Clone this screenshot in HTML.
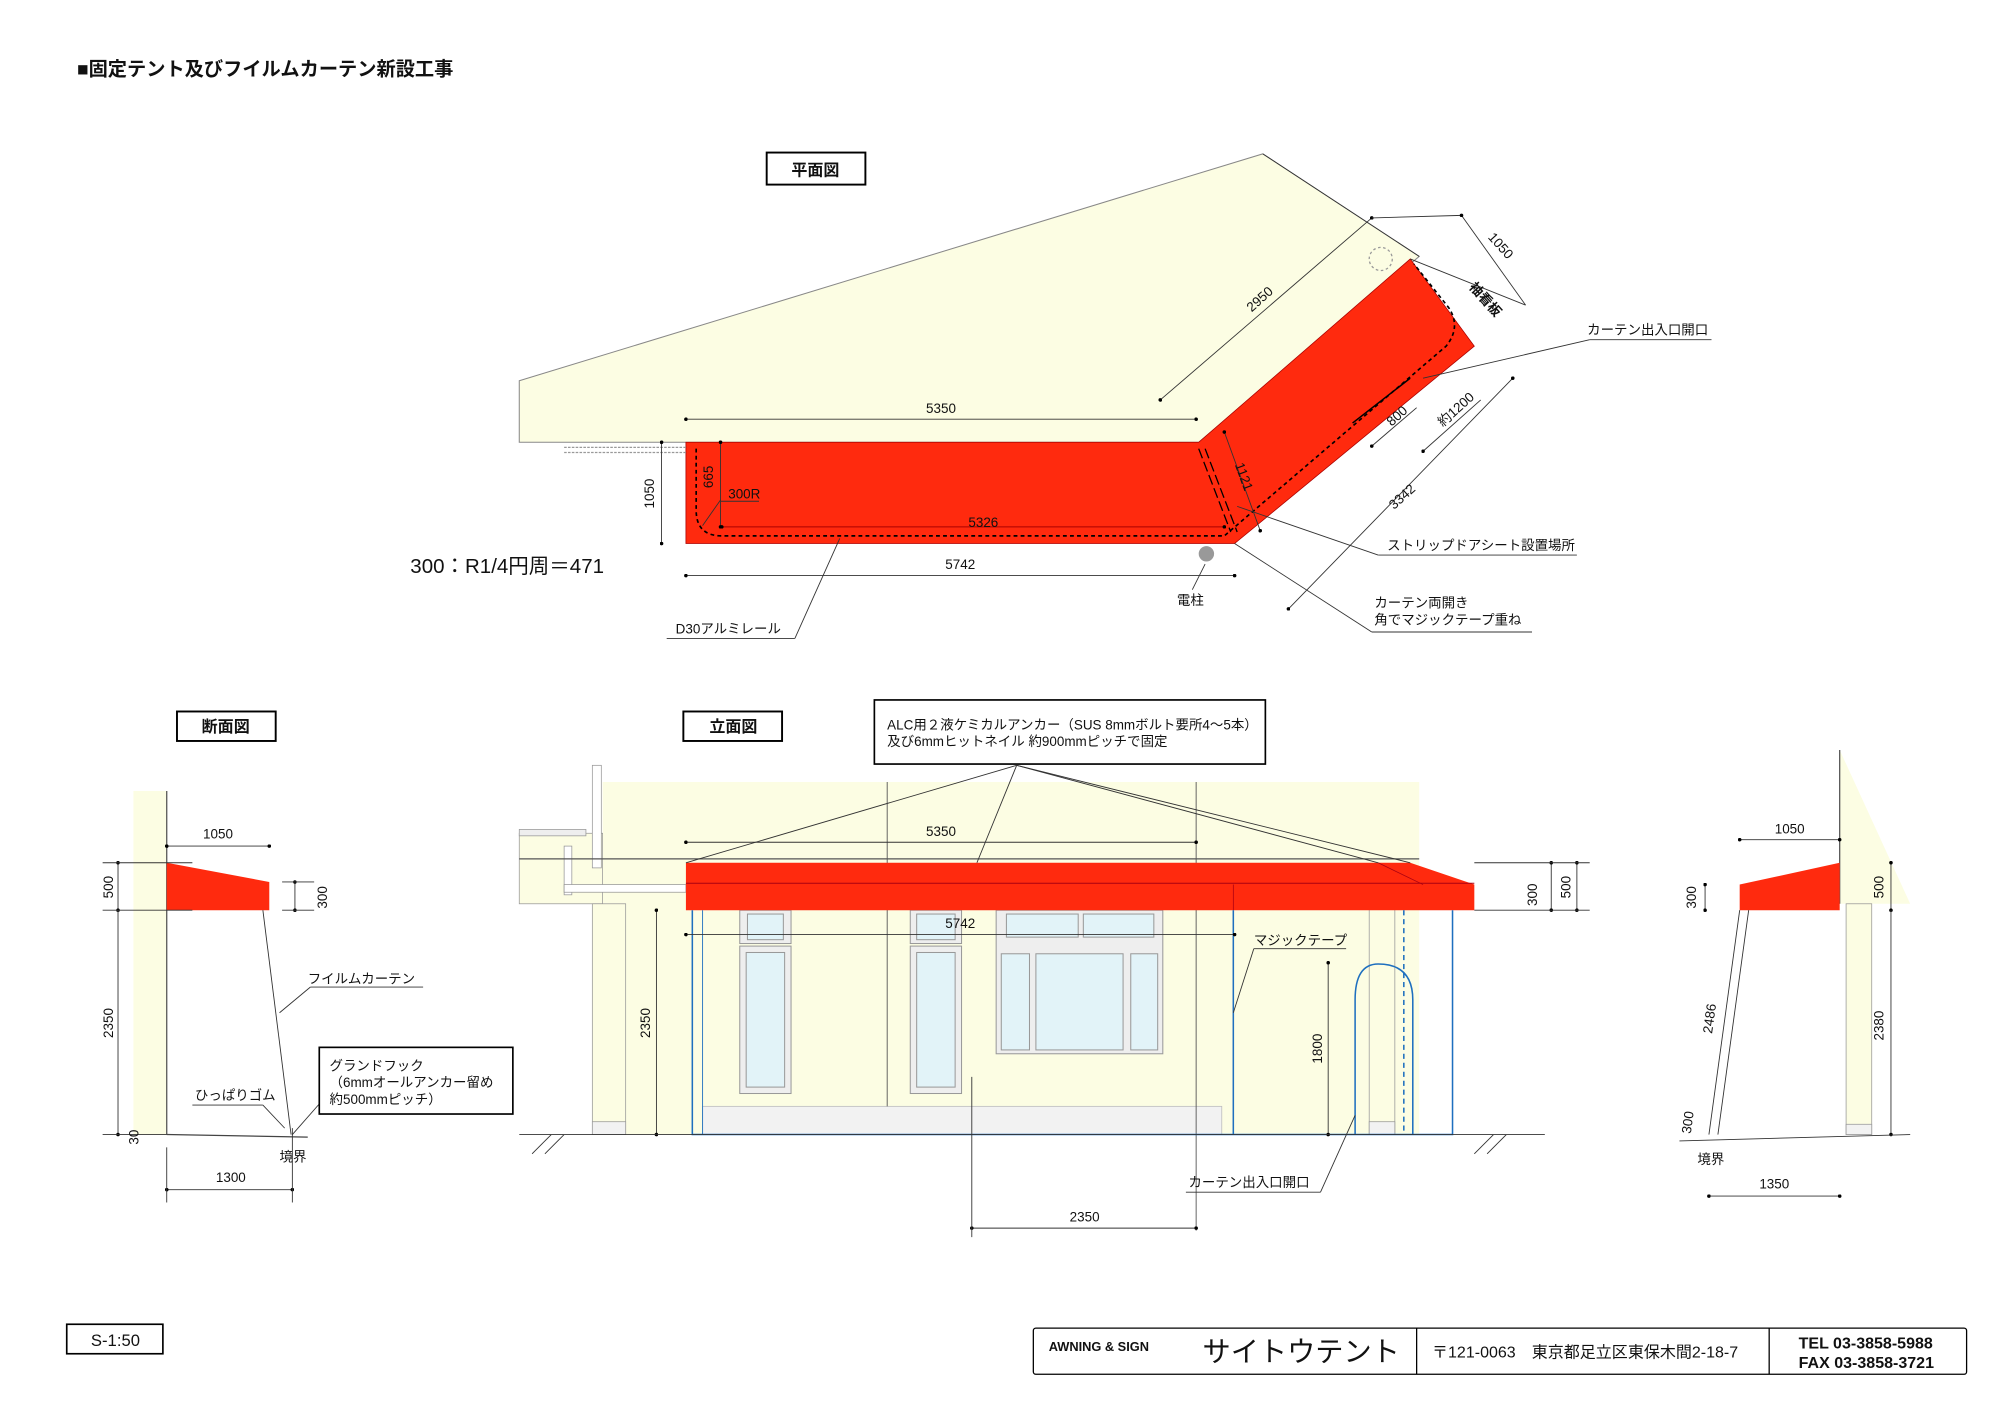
<!DOCTYPE html>
<html><head><meta charset="utf-8"><style>
html,body{margin:0;padding:0;background:#fff;}
svg{display:block;}
text{font-family:"Liberation Sans","Noto Sans CJK JP",sans-serif;fill:#111;}
</style></head><body>
<svg width="2000" height="1414" viewBox="0 0 1560 1103" xmlns="http://www.w3.org/2000/svg">
<defs>
<marker id="d" viewBox="0 0 6 6" refX="3" refY="3" markerWidth="4" markerHeight="4"><circle cx="3" cy="3" r="3" fill="#000"/></marker>
</defs>
<g font-size="10.5">
<text x="60" y="59" font-size="15" font-weight="bold">■固定テント及びフイルムカーテン新設工事</text>

<!-- PLAN -->
<rect x="598" y="119" width="77" height="25" fill="#fff" stroke="#000" stroke-width="1.5"/>
<text x="636" y="137" font-size="12.5" text-anchor="middle" font-weight="bold">平面図</text>
<polygon points="405,297 985,120 1107,200 935,345 405,345" fill="#fcfde3" stroke="#888" stroke-width="0.8"/>
<polygon points="535,345 935,345 1100,202 1150,270 963,424 535,424" fill="#ff2a0e" stroke="#a00" stroke-width="0.6"/>
<path d="M543,350 V398 Q543,418 563,418 H955 L1128,270 Q1140,255 1130,240 L1103,206" fill="none" stroke="#000" stroke-width="1.3" stroke-dasharray="3,2.5"/>
<path d="M935,350 L960,415 M940,350 L965,415" stroke="#000" stroke-width="1" stroke-dasharray="8,3"/>
<line x1="1055" y1="330" x2="1100" y2="295" stroke="#000" stroke-width="1.2"/>
<circle cx="1077" cy="202" r="9" fill="none" stroke="#999" stroke-dasharray="2,2"/>
<circle cx="941" cy="432" r="6" fill="#999"/>
<line x1="440" y1="353" x2="535" y2="353" stroke="#999" stroke-dasharray="2,1"/>
<line x1="440" y1="349" x2="535" y2="349" stroke="#999" stroke-dasharray="2,1"/>
<g stroke="#333" stroke-width="0.7" fill="none">
<line x1="535" y1="327" x2="933" y2="327" marker-start="url(#d)" marker-end="url(#d)"/>
<line x1="535" y1="449" x2="963" y2="449" marker-start="url(#d)" marker-end="url(#d)"/>
<line x1="563" y1="411" x2="955" y2="411" stroke="#a00" marker-start="url(#d)" marker-end="url(#d)"/>
<line x1="516" y1="345" x2="516" y2="424" marker-start="url(#d)" marker-end="url(#d)"/>
<line x1="562" y1="345" x2="562" y2="411" marker-start="url(#d)" marker-end="url(#d)"/>
<line x1="905" y1="312" x2="1070" y2="170" marker-start="url(#d)" marker-end="url(#d)"/>
<line x1="985" y1="120" x2="1107" y2="200"/>
<line x1="1070" y1="170" x2="1140" y2="168"/>
<line x1="1140" y1="168" x2="1190" y2="238" marker-start="url(#d)"/>
<line x1="1100" y1="202" x2="1190" y2="238"/>
<line x1="1005" y1="475" x2="1180" y2="295" marker-start="url(#d)" marker-end="url(#d)"/>
<line x1="1070" y1="348" x2="1105" y2="318" marker-start="url(#d)"/>
<line x1="1110" y1="352" x2="1155" y2="312" marker-start="url(#d)"/>
<line x1="955" y1="337" x2="983" y2="414" marker-start="url(#d)" marker-end="url(#d)"/>
<line x1="1110" y1="295" x2="1240" y2="265"/><line x1="1240" y1="265" x2="1335" y2="265"/>
<line x1="965" y1="395" x2="1075" y2="433"/><line x1="1075" y1="433" x2="1230" y2="433"/>
<line x1="963" y1="424" x2="1070" y2="493"/><line x1="1070" y1="493" x2="1195" y2="493"/>
<line x1="655" y1="420" x2="620" y2="498"/><line x1="620" y1="498" x2="520" y2="498"/>
<line x1="940" y1="440" x2="930" y2="460"/>
<line x1="548" y1="410" x2="562" y2="390"/><line x1="562" y1="391" x2="592" y2="391"/>
</g>
<text x="734" y="322" text-anchor="middle">5350</text>
<text x="749" y="444" text-anchor="middle">5742</text>
<text x="767" y="411" text-anchor="middle">5326</text>
<text x="568" y="389">300R</text>
<text transform="translate(510,385) rotate(-90)" text-anchor="middle">1050</text>
<text transform="translate(556,372) rotate(-90)" text-anchor="middle">665</text>
<text transform="translate(985,236) rotate(-42)" text-anchor="middle">2950</text>
<text transform="translate(1168,194) rotate(48)" text-anchor="middle">1050</text>
<text transform="translate(1156,236) rotate(48)" text-anchor="middle" font-weight="bold">袖看板</text>
<text transform="translate(1092,327) rotate(-42)" text-anchor="middle">800</text>
<text transform="translate(1138,322) rotate(-42)" text-anchor="middle">約1200</text>
<text transform="translate(1096,390) rotate(-42)" text-anchor="middle">3342</text>
<text transform="translate(967,373) rotate(70)" text-anchor="middle">1121</text>
<text x="1238" y="261">カーテン出入口開口</text>
<text x="1082" y="429">ストリップドアシート設置場所</text>
<text x="1072" y="474">カーテン両開き</text>
<text x="1072" y="487">角でマジックテープ重ね</text>
<text x="918" y="472">電柱</text>
<text x="527" y="494">D30アルミレール</text>
<text x="320" y="447" font-size="16">300：R1/4円周＝471</text>

<!-- SECTION LEFT -->
<rect x="138" y="555" width="77" height="23" fill="#fff" stroke="#000" stroke-width="1.5"/>
<text x="176" y="571" font-size="12.5" text-anchor="middle" font-weight="bold">断面図</text>
<rect x="104" y="617" width="26" height="268" fill="#fcfde3"/>
<line x1="130" y1="617" x2="130" y2="885" stroke="#555"/>
<polygon points="130,673 210,688 210,710 130,710" fill="#ff2a0e"/>
<line x1="130" y1="885" x2="240" y2="887" stroke="#444"/>
<g stroke="#333" stroke-width="0.7" fill="none">
<line x1="130" y1="660" x2="210" y2="660" marker-start="url(#d)" marker-end="url(#d)"/>
<line x1="92" y1="673" x2="92" y2="710" marker-start="url(#d)" marker-end="url(#d)"/>
<line x1="92" y1="710" x2="92" y2="885" marker-end="url(#d)"/>
<line x1="80" y1="673" x2="150" y2="673"/><line x1="80" y1="710" x2="150" y2="710"/><line x1="80" y1="885" x2="130" y2="885"/>
<line x1="230" y1="688" x2="230" y2="710" marker-start="url(#d)" marker-end="url(#d)"/>
<line x1="220" y1="688" x2="245" y2="688"/><line x1="220" y1="710" x2="245" y2="710"/>
<line x1="130" y1="928" x2="228" y2="928" marker-start="url(#d)" marker-end="url(#d)"/>
<line x1="130" y1="895" x2="130" y2="938"/><line x1="228" y1="880" x2="228" y2="938"/>
<line x1="205" y1="710" x2="227" y2="885"/>
<line x1="218" y1="790" x2="242" y2="770"/><line x1="242" y1="770" x2="330" y2="770"/>
<line x1="150" y1="862" x2="205" y2="862"/><line x1="205" y1="862" x2="222" y2="880"/>
<line x1="228" y1="885" x2="250" y2="860"/>
</g>
<rect x="249" y="817" width="151" height="52" fill="#fff" stroke="#000" stroke-width="1.3"/>
<text x="170" y="654" text-anchor="middle">1050</text>
<text transform="translate(88,692) rotate(-90)" text-anchor="middle">500</text>
<text transform="translate(88,798) rotate(-90)" text-anchor="middle">2350</text>
<text transform="translate(108,887) rotate(-90)" text-anchor="middle">30</text>
<text transform="translate(255,700) rotate(-90)" text-anchor="middle">300</text>
<text x="180" y="922" text-anchor="middle">1300</text>
<text x="218" y="906">境界</text>
<text x="240" y="767">フイルムカーテン</text>
<text x="152" y="858">ひっぱりゴム</text>
<text x="257" y="835">グランドフック</text>
<text x="257" y="848">（6mmオールアンカー留め</text>
<text x="257" y="861">約500mmピッチ）</text>

<!-- ELEVATION -->
<rect x="533" y="555" width="77" height="23" fill="#fff" stroke="#000" stroke-width="1.5"/>
<text x="572" y="571" font-size="12.5" text-anchor="middle" font-weight="bold">立面図</text>
<rect x="682" y="546" width="305" height="50" fill="#fff" stroke="#000" stroke-width="1.3"/>
<text x="692" y="569">ALC用２液ケミカルアンカー（SUS 8mmボルト要所4〜5本）</text>
<text x="692" y="582">及び6mmヒットネイル 約900mmピッチで固定</text>
<rect x="470" y="610" width="637" height="275" fill="#fcfde3"/>
<rect x="405" y="650" width="65" height="55" fill="#fcfde3" stroke="#999" stroke-width="0.6"/>
<rect x="405" y="647" width="52" height="5" fill="#eee" stroke="#999" stroke-width="0.6"/>
<rect x="462" y="597" width="7" height="80" fill="#fff" stroke="#999" stroke-width="0.6"/>
<rect x="440" y="660" width="6" height="38" fill="#fff" stroke="#999" stroke-width="0.6"/>
<rect x="440" y="690" width="95" height="6" fill="#fff" stroke="#999" stroke-width="0.6"/>
<rect x="462" y="705" width="26" height="180" fill="#fcfde3" stroke="#999" stroke-width="0.6"/>
<rect x="462" y="875" width="26" height="10" fill="#f2f2f2" stroke="#999" stroke-width="0.6"/>
<rect x="1068" y="705" width="20" height="180" fill="#fcfde3" stroke="#999" stroke-width="0.6"/>
<rect x="1068" y="875" width="20" height="10" fill="#f2f2f2" stroke="#999" stroke-width="0.6"/>
<rect x="548" y="863" width="405" height="22" fill="#f2f2f2" stroke="#bbb" stroke-width="0.6"/>
<line x1="405" y1="670" x2="1107" y2="670" stroke="#555"/>
<line x1="692" y1="610" x2="692" y2="863" stroke="#555" stroke-width="0.7"/>
<line x1="933" y1="610" x2="933" y2="960" stroke="#555" stroke-width="0.7"/>
<g fill="#e2f3f8" stroke="#999" stroke-width="0.8">
<rect x="577" y="710" width="40" height="26" fill="#eee"/><rect x="583" y="713" width="28" height="20"/>
<rect x="577" y="738" width="40" height="115" fill="#eee"/><rect x="582" y="743" width="30" height="105"/>
<rect x="710" y="710" width="40" height="26" fill="#eee"/><rect x="715" y="713" width="30" height="20"/>
<rect x="710" y="738" width="40" height="115" fill="#eee"/><rect x="715" y="743" width="30" height="105"/>
<rect x="777" y="710" width="130" height="112" fill="#eee"/>
<rect x="785" y="713" width="56" height="18"/><rect x="845" y="713" width="55" height="18"/>
<rect x="781" y="744" width="22" height="75"/><rect x="808" y="744" width="68" height="75"/><rect x="882" y="744" width="21" height="75"/>
</g>
<polygon points="535,673 1100,673 1150,690 1150,710 535,710" fill="#ff2a0e"/>
<line x1="535" y1="689" x2="1150" y2="689" stroke="#a01" stroke-width="0.8"/>
<line x1="1075" y1="673" x2="1110" y2="690" stroke="#a01" stroke-width="0.6"/>
<line x1="962" y1="690" x2="962" y2="710" stroke="#a01" stroke-width="0.6"/>
<g fill="none" stroke="#1e6fbf" stroke-width="1.2">
<path d="M540,710 V885 H1133 V710"/><line x1="548" y1="710" x2="548" y2="885" stroke-width="0.7"/>
<line x1="962" y1="710" x2="962" y2="885"/>
<path d="M1057,885 V780 Q1057,752 1075,752 Q1102,752 1102,780 V885"/>
<line x1="1095" y1="710" x2="1095" y2="885" stroke-dasharray="4,3"/>
</g>
<g stroke="#333" stroke-width="0.7" fill="none">
<line x1="535" y1="657" x2="933" y2="657" marker-start="url(#d)" marker-end="url(#d)"/>
<line x1="535" y1="729" x2="963" y2="729" marker-start="url(#d)" marker-end="url(#d)"/>
<line x1="512" y1="710" x2="512" y2="885" marker-start="url(#d)" marker-end="url(#d)"/>
<line x1="1036" y1="751" x2="1036" y2="885" marker-start="url(#d)" marker-end="url(#d)"/>
<line x1="758" y1="958" x2="933" y2="958" marker-start="url(#d)" marker-end="url(#d)"/>
<line x1="758" y1="840" x2="758" y2="965"/>
<line x1="1210" y1="673" x2="1210" y2="710" marker-start="url(#d)" marker-end="url(#d)"/>
<line x1="1230" y1="673" x2="1230" y2="710" marker-start="url(#d)" marker-end="url(#d)"/>
<line x1="1150" y1="673" x2="1240" y2="673"/><line x1="1150" y1="710" x2="1240" y2="710"/>
<line x1="405" y1="885" x2="1205" y2="885"/>
<line x1="415" y1="900" x2="430" y2="885"/><line x1="425" y1="900" x2="440" y2="885"/>
<line x1="1150" y1="900" x2="1165" y2="885"/><line x1="1160" y1="900" x2="1175" y2="885"/>
<line x1="793" y1="597" x2="535" y2="673"/><line x1="793" y1="597" x2="762" y2="673"/>
<line x1="793" y1="597" x2="1075" y2="673"/><line x1="793" y1="597" x2="1100" y2="673"/>
<line x1="962" y1="790" x2="978" y2="740"/><line x1="978" y1="740" x2="1050" y2="740"/>
<line x1="1057" y1="870" x2="1030" y2="930"/><line x1="1030" y1="930" x2="925" y2="930"/>
</g>
<text x="734" y="652" text-anchor="middle">5350</text>
<text x="749" y="724" text-anchor="middle">5742</text>
<text x="846" y="953" text-anchor="middle">2350</text>
<text transform="translate(507,798) rotate(-90)" text-anchor="middle">2350</text>
<text transform="translate(1031,818) rotate(-90)" text-anchor="middle">1800</text>
<text transform="translate(1199,698) rotate(-90)" text-anchor="middle">300</text>
<text transform="translate(1225,692) rotate(-90)" text-anchor="middle">500</text>
<text x="978" y="737">マジックテープ</text>
<text x="927" y="926">カーテン出入口開口</text>

<!-- RIGHT SECTION -->
<polygon points="1435,585 1490,705 1435,705" fill="#fcfde3"/>
<line x1="1435" y1="585" x2="1435" y2="705" stroke="#555"/>
<rect x="1440" y="705" width="20" height="180" fill="#fcfde3" stroke="#999" stroke-width="0.6"/>
<rect x="1440" y="877" width="20" height="8" fill="#f2f2f2" stroke="#999" stroke-width="0.6"/>
<polygon points="1357,690 1435,673 1435,710 1357,710" fill="#ff2a0e"/>
<g stroke="#333" stroke-width="0.7" fill="none">
<line x1="1357" y1="655" x2="1435" y2="655" marker-start="url(#d)" marker-end="url(#d)"/>
<line x1="1330" y1="690" x2="1330" y2="710" marker-start="url(#d)" marker-end="url(#d)"/>
<line x1="1475" y1="673" x2="1475" y2="710" marker-start="url(#d)" marker-end="url(#d)"/>
<line x1="1475" y1="710" x2="1475" y2="885" marker-end="url(#d)"/>
<line x1="1333" y1="933" x2="1435" y2="933" marker-start="url(#d)" marker-end="url(#d)"/>
<line x1="1357" y1="710" x2="1333" y2="885"/><line x1="1364" y1="710" x2="1340" y2="885"/>
<line x1="1310" y1="890" x2="1490" y2="885"/>
</g>
<text x="1396" y="650" text-anchor="middle">1050</text>
<text transform="translate(1323,700) rotate(-90)" text-anchor="middle">300</text>
<text transform="translate(1469,692) rotate(-90)" text-anchor="middle">500</text>
<text transform="translate(1469,800) rotate(-90)" text-anchor="middle">2380</text>
<text transform="translate(1337,795) rotate(-82)" text-anchor="middle">2486</text>
<text transform="translate(1320,876) rotate(-82)" text-anchor="middle">300</text>
<text x="1384" y="927" text-anchor="middle">1350</text>
<text x="1324" y="908">境界</text>

<!-- FOOTER -->
<rect x="52" y="1033" width="75" height="23" fill="#fff" stroke="#000" stroke-width="1.3"/>
<text x="90" y="1050" font-size="13" text-anchor="middle">S-1:50</text>
<rect x="806" y="1036" width="728" height="36" rx="2" fill="#fff" stroke="#000" stroke-width="1"/>
<line x1="1105" y1="1036" x2="1105" y2="1072" stroke="#000"/>
<line x1="1380" y1="1036" x2="1380" y2="1072" stroke="#000"/>
<text x="818" y="1054" font-size="10" font-weight="bold">AWNING &amp; SIGN</text>
<text x="938" y="1062" font-size="22">サイトウテント</text>
<text x="1117" y="1059" font-size="12.5">〒121-0063　東京都足立区東保木間2-18-7</text>
<text x="1403" y="1052" font-size="12.5" font-weight="bold">TEL 03-3858-5988</text>
<text x="1403" y="1067" font-size="12.5" font-weight="bold">FAX 03-3858-3721</text>
</g>
</svg>
</body></html>
